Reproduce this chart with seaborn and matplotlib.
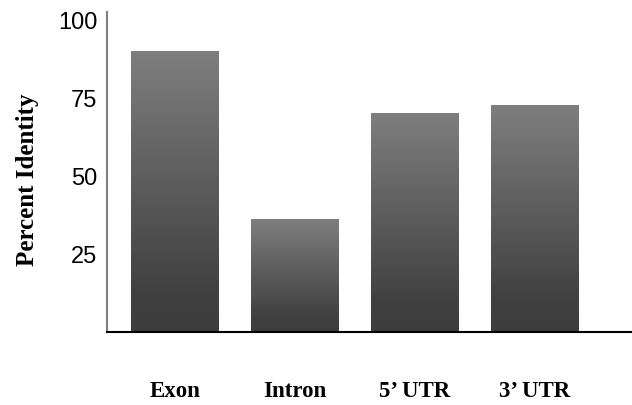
import numpy as np
import pandas as pd
import matplotlib
matplotlib.use("Agg")
import matplotlib.pyplot as plt
import seaborn as sb
from matplotlib.colors import LinearSegmentedColormap

regions = ['Exon', 'Intron', '5\u2019 UTR', '3\u2019 UTR']
identity = [90, 36, 70, 72.5]
yticks = [25, 50, 75, 100]

sb.set_style("white")
plt.rcParams['font.family'] = ['Liberation Sans', 'DejaVu Sans']

df = pd.DataFrame({'region': regions, 'identity': identity})

fig = plt.figure(figsize=(6.32, 4.05), dpi=100)
ax = fig.add_axes([107/632, 73/405, 525/632, 320/405])

sb.barplot(data=df, x='region', y='identity', color='gray', width=0.733,
           saturation=1, ax=ax)

# gradient fill: lighter at the top of each bar, dark at the bottom
grad_cmap = LinearSegmentedColormap.from_list(
    'g', [(0, '#3d3d3d'), (0.15, '#414141'), (1, '#7e7e7e')])
for p in ax.patches:
    x0, y0 = p.get_x(), p.get_y()
    w, h = p.get_width(), p.get_height()
    p.set_facecolor('none')
    p.set_edgecolor('none')
    grad = np.linspace(0, 1, 256).reshape(-1, 1)
    ax.imshow(grad, extent=(x0, x0 + w, y0, y0 + h), origin='lower',
              cmap=grad_cmap, aspect='auto', zorder=2)

ax.set_xlim(-0.567, 3.808)
ax.set_ylim(0, 102.6)
ax.set_yticks(yticks)
ax.set_yticklabels([str(t) for t in yticks], fontsize=17, color='black')
ax.tick_params(axis='y', length=0, pad=7)
ax.tick_params(axis='x', length=0, pad=35)
ax.set_xticks(range(len(regions)))
ax.set_xticklabels(regions, fontsize=16.5, fontweight='bold',
                   family='Liberation Serif', color='black')

ax.set_xlabel('')
ax.set_ylabel('Percent Identity', fontsize=18, fontweight='bold',
              family='Liberation Serif', color='black')
ax.yaxis.set_label_coords(-0.13, 0.475)

sb.despine(ax=ax, top=True, right=True)
ax.spines['left'].set_color('#808080')
ax.spines['left'].set_linewidth(1.5)
ax.spines['bottom'].set_color('black')
ax.spines['bottom'].set_linewidth(1.5)

fig.savefig('out.png', dpi=100)
plt.close()
